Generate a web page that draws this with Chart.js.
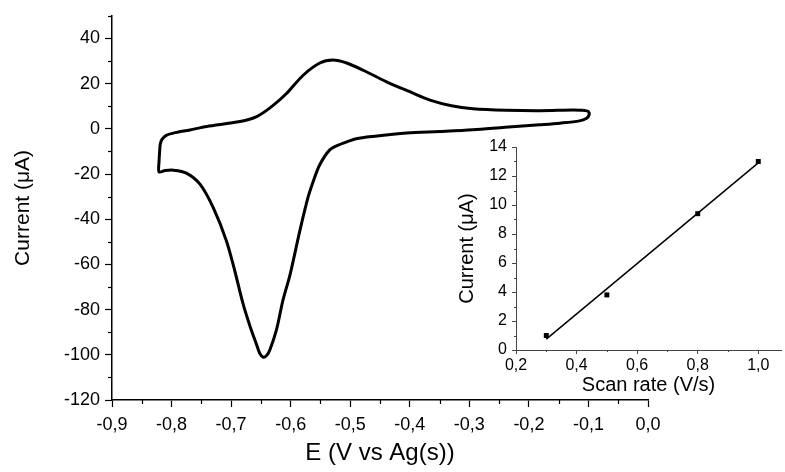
<!DOCTYPE html>
<html>
<head>
<meta charset="utf-8">
<script src="https://cdn.jsdelivr.net/npm/chart.js@4.4.1/dist/chart.umd.min.js"></script>
<style>
  html, body { margin: 0; padding: 0; background: #fff; }
  #wrap { position: relative; width: 785px; height: 472px; }
  #cvChart { position: absolute; left: 0; top: 0; }
  #insetChart { position: absolute; left: 451px; top: 130px; }
</style>
</head>
<body>
<div id="wrap">
  <canvas id="cvChart" width="785" height="472"></canvas>
  <canvas id="insetChart" width="334" height="270"></canvas>
</div>
<script>
// Cyclic voltammogram, E in V vs Ag, current in uA
const cvE = [
    -0.108, -0.100, -0.099, -0.103, -0.115, -0.148, -0.182, -0.240, -0.294, -0.350,
    -0.405, -0.462, -0.490, -0.504, -0.520, -0.534, -0.551, -0.562, -0.571, -0.585,
    -0.601, -0.613, -0.624, -0.635, -0.640, -0.646, -0.652, -0.657, -0.668, -0.680,
    -0.694, -0.708, -0.730, -0.752, -0.775, -0.797, -0.811, -0.821, -0.821, -0.820,
    -0.819, -0.816, -0.809, -0.797, -0.769, -0.741, -0.685, -0.657, -0.632, -0.607,
    -0.579, -0.551, -0.529, -0.506, -0.478, -0.439, -0.400, -0.366, -0.330, -0.294,
    -0.238, -0.182, -0.126, -0.108
];
const cvI = [
    8.2, 7.6, 6.1, 4.7, 3.5, 2.5, 1.8, 0.7, -0.4, -1.2,
    -1.9, -3.4, -4.4, -5.6, -7.2, -9.2, -15.8, -23.2, -30.5, -45.6,
    -64.5, -75.9, -89.1, -97.9, -100.2, -101.1, -99.3, -95.7, -87.6, -77.4,
    -62.7, -49.5, -34.9, -24.6, -19.6, -18.3, -18.5, -19.1, -14.4, -10.0,
    -6.9, -4.7, -2.9, -1.9, -0.5, 1.0, 3.2, 5.4, 9.8, 15.6,
    23.7, 29.1, 30.4, 29.1, 25.9, 20.8, 16.4, 12.7, 10.2, 8.9,
    8.2, 8.0, 8.3, 8.2
];

// Inset: peak current vs scan rate
const scanRates = [0.3, 0.5, 0.8, 1.0];
const peakCurrents = [1.0, 3.8, 9.4, 13.0];
const fitX = [0.3, 1.0];
const fitY = [0.75, 12.9];

const FONT = "'Liberation Sans', Arial, sans-serif";

function commaLabel(v) {
    if (Math.abs(v) < 1e-9) v = 0;
    return Number(v).toFixed(1).replace('.', ',');
}

// small ticks between the labelled ones
const minorTicks = {
    id: 'minorTicks',
    afterDraw(chart, args, opts) {
        const ctx = chart.ctx;
        ctx.save();
        ctx.strokeStyle = opts.color;
        ctx.lineWidth = opts.width;
        (opts.x || []).forEach(v => {
            const s = chart.scales.x;
            const px = Math.round(s.getPixelForValue(v)) + 0.5;
            ctx.beginPath();
            ctx.moveTo(px, s.top);
            ctx.lineTo(px, s.top + opts.len);
            ctx.stroke();
        });
        (opts.y || []).forEach(v => {
            const s = chart.scales.y;
            const py = Math.round(s.getPixelForValue(v)) + 0.5;
            ctx.beginPath();
            ctx.moveTo(s.right, py);
            ctx.lineTo(s.right - opts.len, py);
            ctx.stroke();
        });
        ctx.restore();
    }
};

const cvPoints = cvE.map((e, i) => ({ x: e, y: cvI[i] }));

new Chart(document.getElementById('cvChart'), {
    type: 'scatter',
    data: {
        datasets: [{
            data: cvPoints,
            showLine: true,
            borderColor: '#000',
            borderWidth: 3,
            pointRadius: 0,
            tension: 0.3
        }]
    },
    options: {
        responsive: false,
        animation: false,
        layout: { padding: { left: 7, top: 14, right: 137, bottom: 0 } },
        plugins: {
            legend: { display: false },
            tooltip: { enabled: false },
            minorTicks: {
                color: '#000', width: 1.2, len: 4,
                x: [-0.85, -0.75, -0.65, -0.55, -0.45, -0.35, -0.25, -0.15, -0.05],
                y: [-110, -90, -70, -50, -30, -10, 10, 30, 50]
            }
        },
        scales: {
            x: {
                type: 'linear',
                min: -0.9,
                max: 0,
                afterFit: s => { s.height = 72; },
                border: { color: '#000', width: 1.5 },
                grid: { drawOnChartArea: false, tickLength: 7, tickColor: '#000', tickWidth: 1.2 },
                ticks: {
                    stepSize: 0.1, includeBounds: false, padding: 7, color: '#000',
                    font: { family: FONT, size: 18 }, maxRotation: 0,
                    callback: v => commaLabel(v)
                },
                title: { display: true, text: 'E (V vs Ag(s))', color: '#000', font: { family: FONT, size: 24 } }
            },
            y: {
                min: -120,
                max: 50,
                afterFit: s => { s.width = 105; },
                border: { color: '#000', width: 1.5 },
                grid: { drawOnChartArea: false, tickLength: 7, tickColor: '#000', tickWidth: 1.2 },
                ticks: {
                    stepSize: 20, includeBounds: false, padding: 5, color: '#000',
                    font: { family: FONT, size: 18 }
                },
                title: { display: true, text: 'Current (μA)', color: '#000', font: { family: FONT, size: 21 } }
            }
        }
    },
    plugins: [minorTicks]
});

new Chart(document.getElementById('insetChart'), {
    type: 'scatter',
    data: {
        datasets: [{
            data: fitX.map((x, i) => ({ x: x, y: fitY[i] })),
            showLine: true,
            borderColor: '#000',
            borderWidth: 1.5,
            pointRadius: 0
        }, {
            data: scanRates.map((x, i) => ({ x: x, y: peakCurrents[i] })),
            pointStyle: 'rect',
            pointRadius: 3.5,
            backgroundColor: '#000',
            borderColor: '#000',
            borderWidth: 0
        }]
    },
    options: {
        responsive: false,
        animation: false,
        layout: { padding: { left: 0, top: 17, right: 0, bottom: 0 } },
        plugins: {
            legend: { display: false },
            tooltip: { enabled: false },
            minorTicks: {
                color: '#444', width: 1, len: 2,
                x: [0.3, 0.5, 0.7, 0.9],
                y: [1, 3, 5, 7, 9, 11, 13]
            }
        },
        scales: {
            x: {
                type: 'linear',
                min: 0.2,
                max: 1.075,
                afterFit: s => { s.height = 50; },
                border: { color: '#444', width: 1 },
                grid: { drawOnChartArea: false, tickLength: 4, tickColor: '#444', tickWidth: 1 },
                ticks: {
                    stepSize: 0.2, includeBounds: false, padding: 2, color: '#000',
                    font: { family: FONT, size: 16 }, maxRotation: 0,
                    callback: v => commaLabel(v)
                },
                title: { display: true, text: 'Scan rate (V/s)', color: '#000', font: { family: FONT, size: 20 }, padding: { top: 0, bottom: 3 } }
            },
            y: {
                min: 0,
                max: 14,
                afterFit: s => { s.width = 65; },
                border: { color: '#444', width: 1 },
                grid: { drawOnChartArea: false, tickLength: 4, tickColor: '#444', tickWidth: 1 },
                ticks: {
                    stepSize: 2, includeBounds: false, padding: 5, color: '#000',
                    font: { family: FONT, size: 16 }
                },
                title: { display: true, text: 'Current (μA)', color: '#000', font: { family: FONT, size: 20 } }
            }
        }
    },
    plugins: [minorTicks]
});
</script>
</body>
</html>
